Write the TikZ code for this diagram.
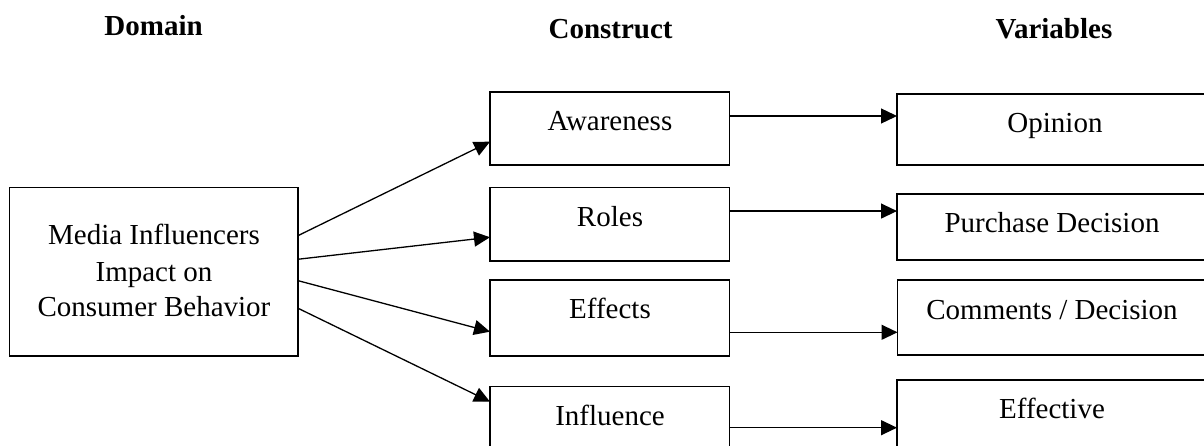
\documentclass[tikz,border=0pt]{standalone}
\usepackage{fontspec}
\setmainfont{Liberation Serif}
\usetikzlibrary{arrows.meta}
\begin{document}
\begin{tikzpicture}[x=1pt,y=-1pt,
  box/.style={draw=black,line width=1.3pt,rectangle,inner sep=0pt,outer sep=0pt,anchor=north west},
  txt/.style={font=\fontsize{29}{36}\selectfont,anchor=base,inner sep=0pt},
  hdr/.style={font=\fontsize{29}{34}\selectfont\bfseries,anchor=base,inner sep=0pt},
  arr/.style={line width=1.3pt,-{Triangle[length=16pt,width=15pt]}}]
\useasboundingbox (0,0) rectangle (1204,446);
% headers
\node[hdr] (h1) at (153.6,36) {Domain};
\node[hdr] (h2) at (610.6,39) {Construct};
\node[hdr] (h3) at (1054,39) {Variables};
% domain box
\node[box,minimum width=288.4pt,minimum height=168.3pt] (dom) at (9.6,187.7) {};
\node[txt] (d1) at (154,245) {Media Influencers};
\node[txt] (d2) at (154,281.7) {Impact on};
\node[txt] (d3) at (154,316.7) {Consumer Behavior};
% construct boxes
\node[box,minimum width=239.5pt,minimum height=73pt] (aw) at (490,92) {};
\node[box,minimum width=239.5pt,minimum height=73.3pt] (ro) at (490,187.7) {};
\node[box,minimum width=239.5pt,minimum height=76pt] (ef) at (490,280) {};
\node[box,minimum width=239.5pt,minimum height=85pt] (in) at (490,386.7) {};
\node[txt] (awt) at (610,131) {Awareness};
\node[txt] (rot) at (610,226.7) {Roles};
\node[txt] (eft) at (610,318) {Effects};
\node[txt] (int) at (610,425) {Influence};
% variables boxes
\node[box,minimum width=318pt,minimum height=71pt] (op) at (897,94) {};
\node[box,minimum width=318pt,minimum height=66pt] (pd) at (897,194) {};
\node[box,minimum width=318pt,minimum height=75pt] (cd) at (897.5,280) {};
\node[box,minimum width=318pt,minimum height=90pt] (ev) at (897,380) {};
\node[txt] (opt) at (1055,133) {Opinion};
\node[txt] (pdt) at (1052,232.7) {Purchase Decision};
\node[txt] (cdt) at (1052,319) {Comments / Decision};
\node[txt] (evt) at (1052,418) {Effective};
% arrows from domain
\draw[arr] ([yshift=36.2pt]dom.east) -- ([yshift=-13.2pt]aw.west);
\draw[arr] ([yshift=12.6pt]dom.east) -- ([yshift=-12.9pt]ro.west);
\draw[arr] ([yshift=-8.8pt]dom.east) -- ([yshift=-13.7pt]ef.west);
\draw[arr] ([yshift=-36.4pt]dom.east) -- ([yshift=-15pt]in.north west);
% arrows construct -> variables
\coordinate (a1) at ([yshift=12.5pt]aw.east);
\coordinate (a2) at ([yshift=13.3pt]ro.east);
\coordinate (a4) at ([yshift=-41pt]in.north east);
\draw[arr] (a1) -- (op.west |- a1);
\draw[arr] (a2) -- (pd.west |- a2);
\draw[arr] ([yshift=-14.3pt]ef.east) -- ([yshift=-14.8pt]cd.west);
\draw[arr] (a4) -- (ev.west |- a4);
\end{tikzpicture}
\end{document}
